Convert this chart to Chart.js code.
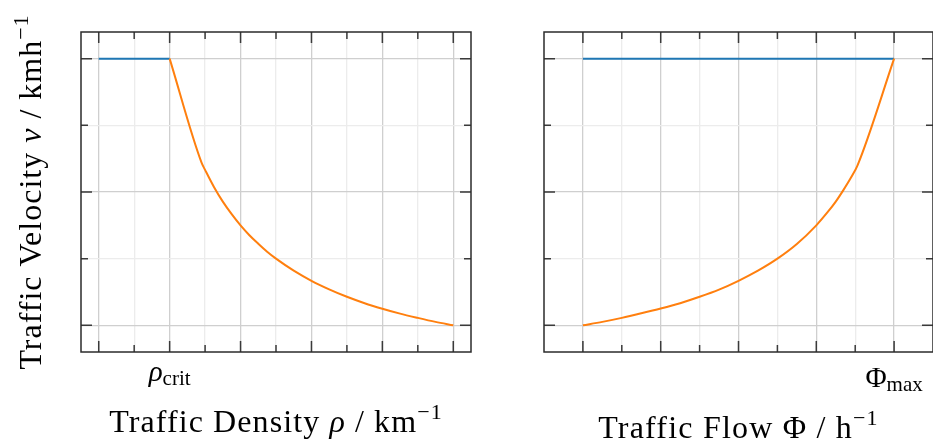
<!DOCTYPE html>
<html>
<head>
<meta charset="utf-8">
<script src="https://cdn.jsdelivr.net/npm/chart.js@4.4.0/dist/chart.umd.min.js"></script>
<style>
    html, body { margin: 0; padding: 0; background: #fff; }
    .wrap { position: relative; width: 933px; height: 447px; overflow: hidden; }
    .wrap canvas { position: absolute; left: 0; top: 0; }
</style>
</head>
<body>
<div class="wrap">
    <canvas id="densityChart" width="933" height="447"></canvas>
    <canvas id="flowChart" width="933" height="447"></canvas>
</div>
<script>
// tick positions
const densityTicks = [0, 0.1, 0.2, 0.3, 0.4, 0.5, 0.6, 0.7, 0.8, 0.9, 1.0];
const velocityTicks = [0, 0.25, 0.5, 0.75, 1.0];
const flowTicks = [0, 0.025, 0.05, 0.075, 0.1, 0.125, 0.15, 0.175, 0.2];

// left panel: velocity over density
const freeDensity = [0, 0.2];
const freeVelocity = [1, 1];
const jamDensity = [0.2, 0.29, 0.3, 0.325, 0.35, 0.375, 0.4, 0.425, 0.45, 0.475, 0.5, 0.55, 0.6, 0.65, 0.7, 0.75, 0.8, 0.85, 0.9, 0.95, 1.0];
const jamVelocity = [1.0, 0.61, 0.583, 0.519, 0.464, 0.417, 0.375, 0.338, 0.306, 0.276, 0.25, 0.205, 0.167, 0.135, 0.107, 0.083, 0.0625, 0.044, 0.028, 0.013, 0];

// right panel: velocity over flow
const freeFlow = [0, 0.2];
const freeFlowVelocity = [1, 1];
const jamFlow = [0, 0.0125, 0.025, 0.0375, 0.05, 0.0625, 0.075, 0.0875, 0.1, 0.1125, 0.125, 0.1375, 0.15, 0.1575, 0.1625, 0.1675, 0.1725, 0.1765, 0.2];
const jamFlowVelocity = [0, 0.013, 0.028, 0.045, 0.063, 0.083, 0.107, 0.134, 0.167, 0.205, 0.25, 0.305, 0.375, 0.426, 0.464, 0.508, 0.556, 0.6, 1.0];

const BLUE = '#1f77b4';
const ORANGE = '#ff7f0e';
const SERIF = "'Liberation Serif', 'DejaVu Serif', serif";

const toPoints = (xs, ys) => xs.map((x, i) => ({ x: x, y: ys[i] }));

// draws a list of [text, font, dy] pieces centred on (x, y)
function richText(ctx, parts, x, y, rotate, spacing) {
    ctx.save();
    ctx.translate(x, y);
    if (rotate) ctx.rotate(-Math.PI / 2);
    ctx.textAlign = 'left';
    ctx.textBaseline = 'alphabetic';
    ctx.fillStyle = '#000';
    ctx.letterSpacing = (spacing || 0) + 'px';
    let w = 0;
    parts.forEach(p => { ctx.font = p[1]; w += ctx.measureText(p[0]).width; });
    let cx = -w / 2;
    parts.forEach(p => {
        ctx.font = p[1];
        ctx.fillText(p[0], cx, p[2] || 0);
        cx += ctx.measureText(p[0]).width;
    });
    ctx.restore();
}

// frame, inward tick marks and labels
function decor(labels, yTitle) {
    return {
        id: 'decor',
        afterDraw(chart) {
            const ctx = chart.ctx;
            const a = chart.chartArea;
            const x = chart.scales.x, y = chart.scales.y;
            ctx.save();
            ctx.lineWidth = 1.5;
            ctx.strokeStyle = '#3a3a3a';
            x.ticks.forEach((t, i) => {
                const px = x.getPixelForValue(t.value);
                const len = i % 2 === 0 ? 11 : 7;
                ctx.beginPath();
                ctx.moveTo(px, a.bottom); ctx.lineTo(px, a.bottom - len);
                ctx.moveTo(px, a.top); ctx.lineTo(px, a.top + len);
                ctx.stroke();
            });
            y.ticks.forEach((t, i) => {
                const py = y.getPixelForValue(t.value);
                const len = i % 2 === 0 ? 11 : 7;
                ctx.beginPath();
                ctx.moveTo(a.left, py); ctx.lineTo(a.left + len, py);
                ctx.moveTo(a.right, py); ctx.lineTo(a.right - len, py);
                ctx.stroke();
            });
            ctx.strokeStyle = '#2b2b2b';
            ctx.strokeRect(a.left, a.top, a.right - a.left, a.bottom - a.top);
            ctx.restore();

            labels.forEach(l => {
                const cx = l.at !== undefined ? x.getPixelForValue(l.at) : (a.left + a.right) / 2;
                richText(ctx, l.parts, cx, l.base, false, l.spacing);
            });
            if (yTitle) richText(ctx, yTitle, 41, (a.top + a.bottom) / 2, true, 1);
        }
    };
}

function makeChart(id, xMin, xMax, xTicks, datasets, padding, plugin) {
    const grid = {
        drawTicks: false, lineWidth: 1.3,
        color: c => c.index % 2 === 0 ? '#cfcfcf' : '#ececec'
    };
    return new Chart(document.getElementById(id), {
        type: 'line',
        data: { datasets: datasets },
        options: {
            responsive: false,
            animation: false,
            layout: { padding: padding },
            plugins: { legend: { display: false }, tooltip: { enabled: false } },
            elements: {
                point: { radius: 0 },
                line: { borderWidth: 2, cubicInterpolationMode: 'monotone' }
            },
            scales: {
                x: {
                    type: 'linear', min: xMin, max: xMax,
                    afterBuildTicks: s => { s.ticks = xTicks.map(v => ({ value: v })); },
                    ticks: { display: false },
                    border: { display: false },
                    grid: grid
                },
                y: {
                    type: 'linear', min: -0.1, max: 1.1,
                    afterBuildTicks: s => { s.ticks = velocityTicks.map(v => ({ value: v })); },
                    ticks: { display: false },
                    border: { display: false },
                    grid: grid
                }
            }
        },
        plugins: [plugin]
    });
}

const big = '32px ' + SERIF;
const bigItalic = 'italic 32px ' + SERIF;
const sup = '22px ' + SERIF;
const tickBig = '29px ' + SERIF;
const tickItalic = 'italic 29px ' + SERIF;
const sub = '21px ' + SERIF;

makeChart('densityChart', -0.05, 1.05, densityTicks, [
    { data: toPoints(jamDensity, jamVelocity), borderColor: ORANGE },
    { data: toPoints(freeDensity, freeVelocity), borderColor: BLUE }
], { left: 81, top: 32, right: 462, bottom: 95 }, decor([
    { at: 0.2, base: 381, parts: [['ρ', tickItalic], ['crit', sub, 4]] },
    { base: 432, spacing: 1.1, parts: [['Traffic Density ', big], ['ρ', bigItalic], [' / km', big], ['−1', sup, -13]] }
], [['Traffic Velocity ', big], ['v', bigItalic], [' / kmh', big], ['−1', sup, -13]]));

makeChart('flowChart', -0.025, 0.225, flowTicks, [
    { data: toPoints(jamFlow, jamFlowVelocity), borderColor: ORANGE },
    { data: toPoints(freeFlow, freeFlowVelocity), borderColor: BLUE }
], { left: 544, top: 32, right: -1, bottom: 95 }, decor([
    { at: 0.2, base: 386.5, parts: [['Φ', tickBig], ['max', sub, 4]] },
    { base: 438, spacing: 1.2, parts: [['Traffic Flow Φ / h', big], ['−1', sup, -13]] }
], null));
</script>
</body>
</html>
